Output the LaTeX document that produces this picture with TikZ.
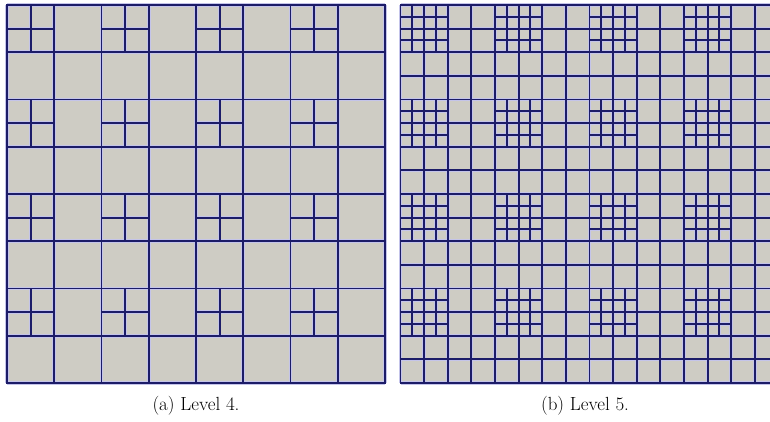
\documentclass[tikz,border=0pt]{standalone}
\usepackage{tikz}
\usetikzlibrary{positioning}
\definecolor{meshfill}{RGB}{206,204,196}
\definecolor{meshline}{RGB}{28,28,104}
\definecolor{meshglow}{RGB}{196,196,234}
\tikzset{
  gridline/.style={preaction={draw=meshglow,line width=3.6pt},draw=meshline,line width=1.9pt,line cap=rect},
  caption/.style={font=\fontsize{19}{23}\selectfont}
}
\newcommand{\cellw}{47.25}

\begin{document}
\begin{tikzpicture}[x=1pt,y=-1pt]
  \useasboundingbox (0,0) rectangle (770,421);
  % (a) level 4: 8x8 cells, every other cell split in four
  \begin{scope}[shift={(7,5)}]
    \fill[meshfill] (0,0) rectangle (378,378);
    \draw[gridline]
      \foreach \i in {0,...,8} {(\i*\cellw,0) -- (\i*\cellw,378) (0,\i*\cellw) -- (378,\i*\cellw)}
      \foreach \i in {0,2,4,6} {\foreach \j in {0,2,4,6} {
        ({(\i+0.5)*\cellw},{\j*\cellw}) -- ({(\i+0.5)*\cellw},{(\j+1)*\cellw})
        ({\i*\cellw},{(\j+0.5)*\cellw}) -- ({(\i+1)*\cellw},{(\j+0.5)*\cellw})}};
  \end{scope}
  % (b) level 5: 16x16 cells, the same cells split in 4x4
  \begin{scope}
    \clip (392,0) rectangle (770,421);
    \begin{scope}[shift={(400.5,5)}]
      \fill[meshfill] (0,0) rectangle (378,378);
      \draw[gridline]
        \foreach \i in {0,...,16} {(\i*\cellw/2,0) -- (\i*\cellw/2,378) (0,\i*\cellw/2) -- (378,\i*\cellw/2)}
        \foreach \i in {0,2,4,6} {\foreach \j in {0,2,4,6} {\foreach \k in {0.25,0.75} {
          ({(\i+\k)*\cellw},{\j*\cellw}) -- ({(\i+\k)*\cellw},{(\j+1)*\cellw})
          ({\i*\cellw},{(\j+\k)*\cellw}) -- ({(\i+1)*\cellw},{(\j+\k)*\cellw})}}};
    \end{scope}
  \end{scope}
  \node[caption] (capa) at (196,406) {(a) Level 4.};
  \node[caption] (capb) at (585,406) {(b) Level 5.};
\end{tikzpicture}
\end{document}
